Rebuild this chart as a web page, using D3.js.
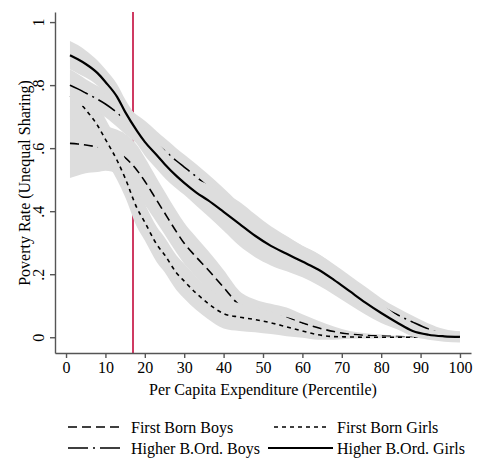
<!DOCTYPE html>
<meta charset="utf-8">
<style>
body { margin: 0; background: #fff; }
svg { font-family: "Liberation Serif", "Times New Roman", serif; }
.axis path, .axis line { stroke: #555; stroke-width: 1.4; }
.axis text { fill: #000; font-size: 16px; font-family: "Liberation Serif", serif; }
</style>
<svg width="485" height="461"></svg>
<script src="https://d3js.org/d3.v7.min.js"></script>
<script>

// percentile grid the curves are read at
var pct = [1,3,5,8,10,13,15,18,20,23,25,28,30,33,36,40,44,48,52,56,60,64,68,72,76,80,84,88,92,96,100];

// First Born Boys
var fbBoys   = [0.615,0.613,0.61,0.604,0.6,0.588,0.57,0.53,0.495,0.435,0.395,0.335,0.298,0.255,0.215,0.158,0.102,0.08,0.07,0.062,0.045,0.03,0.018,0.01,0.006,0.004,0.002,0.001,0,0,0];
var fbBoysSe = [0.11,0.1,0.09,0.08,0.072,0.07,0.075,0.08,0.075,0.07,0.068,0.066,0.065,0.063,0.06,0.055,0.045,0.04,0.036,0.032,0.028,0.022,0.016,0.01,0.007,0.005,0.003,0.002,0.001,0.001,0.001];

// First Born Girls
var fbGirls   = [0.765,0.75,0.722,0.672,0.628,0.56,0.505,0.41,0.365,0.295,0.262,0.205,0.178,0.14,0.108,0.075,0.064,0.056,0.046,0.033,0.02,0.008,0.002,0.001,0,0,0,0,0,0,0];
var fbGirlsSe = [0.07,0.07,0.07,0.068,0.065,0.062,0.06,0.06,0.058,0.056,0.055,0.055,0.055,0.053,0.05,0.047,0.044,0.04,0.036,0.03,0.022,0.016,0.01,0.006,0.004,0.003,0.002,0.002,0.001,0.001,0.001];

// Higher Birth Order Boys
var hbBoys   = [0.8,0.788,0.775,0.755,0.74,0.712,0.69,0.66,0.642,0.612,0.592,0.56,0.54,0.51,0.478,0.435,0.39,0.35,0.318,0.29,0.262,0.236,0.205,0.17,0.135,0.1,0.072,0.048,0.026,0.01,0.004];
var hbBoysSe = [0.05,0.047,0.044,0.042,0.042,0.045,0.045,0.045,0.045,0.042,0.04,0.04,0.04,0.04,0.04,0.038,0.035,0.033,0.031,0.03,0.028,0.028,0.027,0.026,0.025,0.024,0.022,0.02,0.018,0.016,0.014];

// Higher Birth Order Girls
var hbGirls   = [0.895,0.882,0.867,0.838,0.81,0.762,0.715,0.655,0.62,0.578,0.55,0.512,0.49,0.46,0.435,0.398,0.36,0.322,0.29,0.265,0.24,0.215,0.182,0.146,0.11,0.077,0.047,0.02,0.008,0.003,0.001];
var hbGirlsSe = [0.045,0.045,0.043,0.04,0.04,0.04,0.04,0.042,0.043,0.044,0.044,0.04,0.038,0.042,0.05,0.06,0.07,0.068,0.062,0.056,0.05,0.05,0.047,0.043,0.038,0.032,0.022,0.018,0.016,0.017,0.018];

var povLine = 17;
var xTicks = [0,10,20,30,40,50,60,70,80,90,100];
var yTicks = [0,0.2,0.4,0.6,0.8,1];
var yTickLabels = ["0",".2",".4",".6",".8","1"];

var series = [
  {name: "First Born Boys", mean: fbBoys, se: fbBoysSe, dash: "9,5", width: 1.6},
  {name: "First Born Girls", mean: fbGirls, se: fbGirlsSe, dash: "4,4", width: 1.6},
  {name: "Higher B.Ord. Boys", mean: hbBoys, se: hbBoysSe, dash: "20,5,2,5", width: 1.6},
  {name: "Higher B.Ord. Girls", mean: hbGirls, se: hbGirlsSe, dash: null, width: 2.2}
];

var svg = d3.select("svg");

var x = d3.scaleLinear().domain([-2.8, 102.8]).range([55, 471]),
    y = d3.scaleLinear().domain([-0.05, 1.032]).range([353, 12]);

// poverty line first, the bands cover it
svg.append("line")
    .attr("x1", x(povLine)).attr("x2", x(povLine))
    .attr("y1", y(1.032)).attr("y2", y(-0.05))
    .attr("stroke", "#cf3a62")
    .attr("stroke-width", 2);

var area = d3.area()
    .curve(d3.curveMonotoneX)
    .x(function(d) { return x(d.p); })
    .y0(function(d) { return y(d.m - d.s); })
    .y1(function(d) { return y(d.m + d.s); });

var line = d3.line()
    .curve(d3.curveMonotoneX)
    .x(function(d) { return x(d.p); })
    .y(function(d) { return y(d.m); });

series.forEach(function(s) {
  var pts = pct.map(function(p, i) { return {p: p, m: s.mean[i], s: s.se[i]}; });
  svg.append("path")
      .datum(pts)
      .attr("d", area)
      .attr("fill", "#dddddd");
  svg.append("path")
      .datum(pts)
      .attr("d", line)
      .attr("fill", "none")
      .attr("stroke", "#000")
      .attr("stroke-width", s.width)
      .attr("stroke-dasharray", s.dash);
});

svg.append("g")
    .attr("class", "axis")
    .attr("transform", "translate(0,353)")
    .call(d3.axisBottom(x).tickValues(xTicks).tickSize(5).tickPadding(4).tickSizeOuter(0));

var yAxis = svg.append("g")
    .attr("class", "axis")
    .attr("transform", "translate(55,0)")
    .call(d3.axisLeft(y).tickValues(yTicks).tickSize(5).tickSizeOuter(0)
      .tickFormat(function(d, i) { return yTickLabels[i]; }));

yAxis.selectAll(".tick text")
    .attr("transform", "rotate(-90)")
    .attr("x", 0)
    .attr("y", -11)
    .attr("dy", 0)
    .attr("text-anchor", "middle");

svg.append("text")
    .attr("x", 263).attr("y", 395)
    .attr("text-anchor", "middle")
    .attr("font-size", 16)
    .text("Per Capita Expenditure (Percentile)");

svg.append("text")
    .attr("transform", "translate(30,183) rotate(-90)")
    .attr("text-anchor", "middle")
    .attr("font-size", 16)
    .text("Poverty Rate (Unequal Sharing)");

// legend, two columns
var legendPos = [
  {lx1: 68, lx2: 120, tx: 131, y: 427},
  {lx1: 274, lx2: 328, tx: 337, y: 427},
  {lx1: 68, lx2: 120, tx: 131, y: 448},
  {lx1: 268, lx2: 333, tx: 337, y: 448}
];

var leg = svg.append("g").selectAll("g")
    .data(series)
    .enter().append("g");

leg.append("line")
    .attr("x1", function(d, i) { return legendPos[i].lx1; })
    .attr("x2", function(d, i) { return legendPos[i].lx2; })
    .attr("y1", function(d, i) { return legendPos[i].y; })
    .attr("y2", function(d, i) { return legendPos[i].y; })
    .attr("stroke", "#000")
    .attr("stroke-width", function(d) { return d.width; })
    .attr("stroke-dasharray", function(d) { return d.dash; });

leg.append("text")
    .attr("x", function(d, i) { return legendPos[i].tx; })
    .attr("y", function(d, i) { return legendPos[i].y + 5.5; })
    .attr("font-size", 16)
    .text(function(d) { return d.name; });

</script>
